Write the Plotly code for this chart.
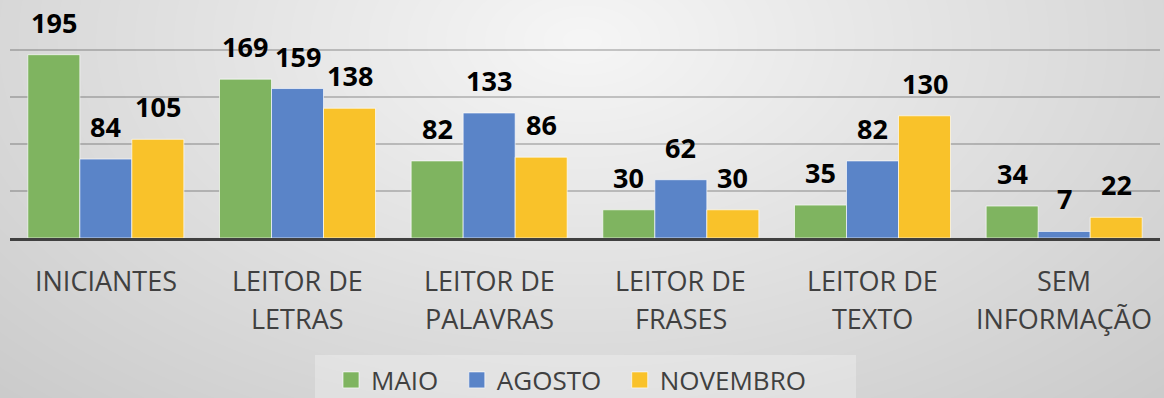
import base64
import struct
import zlib

import numpy as np
import plotly.graph_objects as go

# ---- data -------------------------------------------------------------
categories = [
    "INICIANTES",
    "LEITOR DE<br>LETRAS",
    "LEITOR DE<br>PALAVRAS",
    "LEITOR DE<br>FRASES",
    "LEITOR DE<br>TEXTO",
    "SEM<br>INFORMAÇÃO",
]
series_names = ["MAIO", "AGOSTO", "NOVEMBRO"]
maio = [195, 169, 82, 30, 35, 34]
agosto = [84, 159, 133, 62, 82, 7]
novembro = [105, 138, 86, 30, 130, 22]
y_ticks = [0, 50, 100, 150, 200, 250]

# ---- layout constants --------------------------------------------------
W, H = 1164, 398
M_L, M_R, M_T, M_B = 10, 4, 3, 160
PLOT_W = W - M_L - M_R
PLOT_H = H - M_T - M_B
BARGAP = 0.186
colors = ["#7FB460", "#5A84C8", "#F9C22A"]
TEXT_GREY = "#404040"
LABEL_FONT = dict(family="Open Sans", size=27, color=TEXT_GREY)
LABEL_TOP = 22      # px from axis line to first label line
LABEL_LINE = 38     # px between label lines
LEGEND_BOX = (315, 856, 355, 398)  # left, right, top, bottom in px
LEGEND_ROW_Y = 380                  # px, centre of the legend row


def px_x(px):
    return (px - M_L) / PLOT_W


def px_y(py):
    return (H - M_B - py) / PLOT_H


def gradient_png(w, h):
    """Soft radial grey backdrop, light near the top centre."""
    yy, xx = np.mgrid[0:h, 0:w].astype(float)
    r = np.sqrt(((xx - 582) / 700.0) ** 2 + ((yy - 40) / 420.0) ** 2)
    val = np.clip(246 - 36 * r, 200, 255).astype(np.uint8)
    raw = b"".join(b"\x00" + val[i].tobytes() for i in range(h))

    def chunk(tag, data):
        c = tag + data
        return struct.pack(">I", len(data)) + c + struct.pack(">I", zlib.crc32(c) & 0xFFFFFFFF)

    png = b"\x89PNG\r\n\x1a\n"
    png += chunk(b"IHDR", struct.pack(">IIBBBBB", w, h, 8, 0, 0, 0, 0))
    png += chunk(b"IDAT", zlib.compress(raw, 9))
    png += chunk(b"IEND", b"")
    return "data:image/png;base64," + base64.b64encode(png).decode()


fig = go.Figure()
all_values = [maio, agosto, novembro]
for name, vals, col in zip(series_names, all_values, colors):
    fig.add_trace(
        go.Bar(
            name=name,
            x=categories,
            y=vals,
            marker=dict(color=col, line=dict(color="rgba(255,255,255,0.65)", width=1)),
            showlegend=False,
        )
    )
    # square legend swatch (bar swatches are fixed at 12px)
    fig.add_trace(
        go.Scatter(
            name=name + "\u00a0\u00a0",
            x=[None],
            y=[None],
            mode="markers",
            marker=dict(symbol="square", size=16, color=col,
                        line=dict(color="rgba(255,255,255,0.65)", width=1)),
        )
    )

# value labels above each bar
bar_px = PLOT_W / len(categories) * (1 - BARGAP) / len(series_names)
for i, vals in enumerate(all_values):
    for cat, v in zip(categories, vals):
        fig.add_annotation(
            x=cat,
            y=v,
            text=str(v),
            showarrow=False,
            xanchor="center",
            yanchor="bottom",
            xshift=(i - 1) * bar_px,
            yshift=12,
            font=dict(family="Open Sans", size=27, color="#000000", weight="bold"),
        )

# category labels, one annotation per line
for cat in categories:
    for k, line in enumerate(cat.split("<br>")):
        fig.add_annotation(
            x=cat,
            y=0,
            yref="y",
            text=line,
            showarrow=False,
            xanchor="center",
            yanchor="top",
            yshift=-(LABEL_TOP + k * LABEL_LINE),
            font=LABEL_FONT,
        )

fig.add_layout_image(
    source=gradient_png(W, H),
    xref="paper",
    yref="paper",
    x=-M_L / PLOT_W,
    y=1 + M_T / PLOT_H,
    sizex=W / PLOT_W,
    sizey=H / PLOT_H,
    sizing="stretch",
    xanchor="left",
    yanchor="top",
    layer="below",
)

# legend panel
fig.add_shape(
    type="rect",
    xref="paper",
    yref="paper",
    x0=px_x(LEGEND_BOX[0]),
    x1=px_x(LEGEND_BOX[1]),
    y0=px_y(LEGEND_BOX[3] + 2),
    y1=px_y(LEGEND_BOX[2]),
    fillcolor="rgba(255,255,255,0.28)",
    line=dict(width=0),
    layer="below",
)

fig.update_layout(
    width=W,
    height=H,
    margin=dict(l=M_L, r=M_R, t=M_T, b=M_B, autoexpand=False),
    barmode="group",
    bargap=BARGAP,
    bargroupgap=0,
    paper_bgcolor="rgba(0,0,0,0)",
    plot_bgcolor="rgba(0,0,0,0)",
    font=dict(family="Open Sans", color=TEXT_GREY),
    showlegend=True,
    legend=dict(
        orientation="h",
        xref="container",
        yref="container",
        x=(LEGEND_BOX[0] + 16) / W,
        xanchor="left",
        y=1 - LEGEND_ROW_Y / H,
        yanchor="middle",
        bgcolor="rgba(0,0,0,0)",
        itemsizing="trace",
        font=dict(family="Open Sans", size=26, color=TEXT_GREY),
    ),
    xaxis=dict(
        showline=True,
        linecolor="#404040",
        linewidth=3,
        ticks="",
        showticklabels=False,
        automargin=False,
    ),
    yaxis=dict(
        range=[0, 250],
        tickvals=y_ticks,
        showticklabels=False,
        showgrid=True,
        gridcolor="rgba(0,0,0,0.2)",
        gridwidth=1.5,
        zeroline=False,
        automargin=False,
    ),
)

fig.write_html("out.html")
